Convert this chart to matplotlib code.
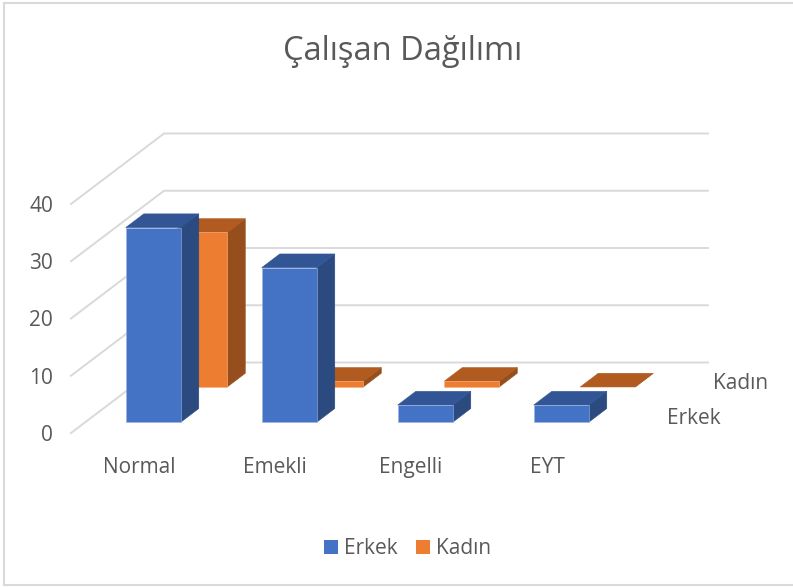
import matplotlib
matplotlib.use("Agg")
import matplotlib.pyplot as plt
from matplotlib.patches import Polygon, Patch
from matplotlib.lines import Line2D

categories = ["Normal", "Emekli", "Engelli", "EYT"]
series_names = ["Erkek", "Kadın"]
erkek = [34, 27, 3, 3]
kadin = [27, 1, 1, 0]
value_ticks = [0, 10, 20, 30, 40]

GREY = "#595959"
GRID = "#D9D9D9"
plt.rcParams["font.family"] = ["Open Sans", "DejaVu Sans"]

W, H = 793, 587
fig = plt.figure(figsize=(W / 100, H / 100), dpi=100, facecolor="white")
ax = fig.add_axes([71 / W, (H - 433) / H, 544 / W, 229 / H])
ax.set_xlim(0, 4)
ax.set_ylim(0, 40)
ax.patch.set_visible(False)
for s in ax.spines.values():
    s.set_visible(False)

DX = 93 / 136          # category units for one full depth
DY = 70.5 / (229 / 40)  # value units for one full depth


def proj(c, d, v):
    return (c + d * DX, v + d * DY)


for v in value_ticks:
    pts = [proj(0, 0, v), proj(0, 1, v), proj(4, 1, v)]
    ax.add_line(Line2D(*zip(*pts), color=GRID, lw=1.4, clip_on=False, zorder=1,
                       solid_joinstyle="miter"))

BAR_W = 55 / 136
BAR_D = 0.194


def bar(c, row, v, front, side, top, edge_col, z):
    x0 = c + 0.5 - BAR_W / 2
    x1 = x0 + BAR_W
    d0 = 0.25 + 0.5 * row - BAR_D / 2
    d1 = d0 + BAR_D
    edge = dict(clip_on=False, zorder=z, lw=0.4, joinstyle="miter")
    ax.add_patch(Polygon([proj(x1, d0, 0), proj(x1, d1, 0), proj(x1, d1, v), proj(x1, d0, v)],
                         fc=side, ec=side, **edge))
    ax.add_patch(Polygon([proj(x0, d0, v), proj(x1, d0, v), proj(x1, d1, v), proj(x0, d1, v)],
                         fc=top, ec=top, **edge))
    if v > 0:
        ax.add_patch(Polygon([proj(x0, d0, 0), proj(x1, d0, 0), proj(x1, d0, v), proj(x0, d0, v)],
                             fc=front, ec=edge_col, **edge))


for i, v in enumerate(kadin):
    bar(i, 1, v, "#ED7D31", "#964F1C", "#B15B20", "#F4B183", 2 + i * 0.1)
for i, v in enumerate(erkek):
    bar(i, 0, v, "#4472C4", "#2A4A80", "#325695", "#9DB4E0", 3 + i * 0.1)

ax.set_xticks([i + 0.5 for i in range(len(categories))])
ax.set_xticklabels(categories, fontsize=15, color=GREY)
ax.set_yticks(value_ticks)
ax.set_yticklabels([str(v) for v in value_ticks], fontsize=15, color=GREY)
ax.tick_params(axis="x", length=0, pad=17)
ax.tick_params(axis="y", length=0, pad=13)

for row, name in enumerate(series_names):
    ax.annotate(name, xy=proj(4, 0.25 + 0.5 * row, 0), xytext=(20.5, -2.5),
                textcoords="offset points", ha="left", va="center",
                fontsize=15, color=GREY, annotation_clip=False)

fig.text(403 / W, 1 - 51 / H, "Çalışan Dağılımı", ha="center", va="center",
         fontsize=23.5, color=GREY)

fig.legend(handles=[Patch(fc="#4472C4", label="Erkek"), Patch(fc="#ED7D31", label="Kadın")],
           loc="center", bbox_to_anchor=(407.5 / W, 1 - 549 / H), ncol=2, frameon=False,
           fontsize=15, labelcolor=GREY, handlelength=0.67, handleheight=0.67,
           handletextpad=0.29, columnspacing=0.87)

for xs, ys in [((4, 4), (3, 585)), ((4, 793), (3, 3)), ((4, 793), (585, 585))]:
    fig.add_artist(Line2D([x / W for x in xs], [1 - y / H for y in ys],
                          color="#D9D9D9", lw=1.5, transform=fig.transFigure))

fig.savefig("out.png", dpi=100)
